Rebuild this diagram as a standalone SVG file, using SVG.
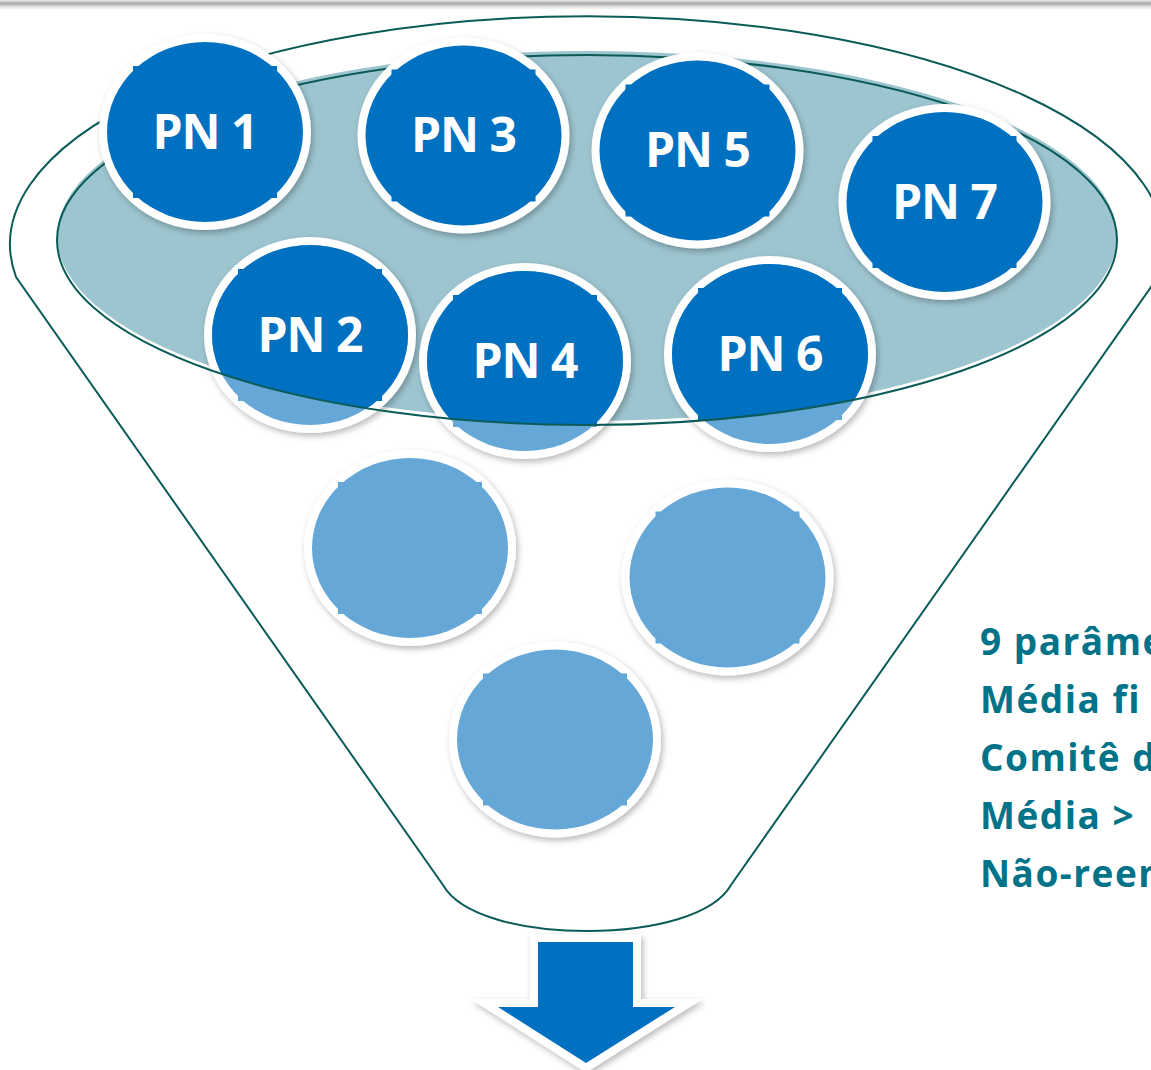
<svg xmlns="http://www.w3.org/2000/svg" width="1151" height="1070" viewBox="0 0 1151 1070">
<style>
  .line { fill: none; stroke: #0B5C58; stroke-width: 2; }
  .ring { fill: #ffffff; filter: url(#shadow); }
  .lbl { font-family: "Open Sans", Lato, "Liberation Sans", sans-serif; font-weight: 700; font-size: 48px; letter-spacing: -1px; fill: #ffffff; text-anchor: middle; }
  .note { font-family: "Open Sans", Lato, "Liberation Sans", sans-serif; font-weight: 700; font-size: 37px; letter-spacing: 1.5px; fill: #007389; font-variant-ligatures: none; }
</style>
<defs>
  <filter id="shadow" x="-20%" y="-20%" width="140%" height="140%">
    <feDropShadow dx="2" dy="3" stdDeviation="3" flood-color="#000" flood-opacity="0.28"/>
  </filter>
  <linearGradient id="topbar" x1="0" y1="0" x2="0" y2="1">
    <stop offset="0" stop-color="#e8e8e8"/>
    <stop offset="0.35" stop-color="#a9a9a9"/>
    <stop offset="0.7" stop-color="#e4e4e4"/>
    <stop offset="1" stop-color="#ffffff"/>
  </linearGradient>
  <clipPath id="liquid" clipPathUnits="userSpaceOnUse">
    <rect x="0" y="0" width="1151" height="240"/>
    <ellipse cx="587" cy="240" rx="530" ry="185"/>
  </clipPath>
  <g id="dk">
    <ellipse cx="0" cy="0" rx="98" ry="90" fill="#0070C0"/>
    <rect x="-72" y="-66" width="6" height="6" fill="#0070C0"/>
    <rect x="66" y="-66" width="6" height="6" fill="#0070C0"/>
    <rect x="-72" y="60" width="6" height="6" fill="#0070C0"/>
    <rect x="66" y="60" width="6" height="6" fill="#0070C0"/>
  </g>
  <g id="lt">
    <ellipse cx="0" cy="0" rx="98" ry="90" fill="#65A7D6"/>
    <rect x="-72" y="-66" width="6" height="6" fill="#65A7D6"/>
    <rect x="66" y="-66" width="6" height="6" fill="#65A7D6"/>
    <rect x="-72" y="60" width="6" height="6" fill="#65A7D6"/>
    <rect x="66" y="60" width="6" height="6" fill="#65A7D6"/>
  </g>
</defs>

<rect x="0" y="0" width="1151" height="1070" fill="#ffffff"/>
<rect x="0" y="0" width="1151" height="10" fill="url(#topbar)"/>

<g id="funnel">
  <path class="line" d="M16,277 A577,228 0 1 1 1158,277 L731,885 C714,915 654,931 587,931 C520,931 460,915 443,885 Z"/>
  <ellipse cx="587" cy="236" rx="530" ry="185" fill="#9DC5D0"/>
  <path class="line" d="M57,240 A530,185 0 0 1 1117,240"/>
</g>

<g id="nodes">
  <g id="pn1">
    <ellipse class="ring" cx="205" cy="132" rx="106" ry="98"/>
    <use href="#dk" x="205" y="132"/>
    <text class="lbl" x="205" y="148.5">PN 1</text>
  </g>
  <g id="pn3">
    <ellipse class="ring" cx="463.5" cy="135.5" rx="106" ry="98"/>
    <use href="#dk" x="463.5" y="135.5"/>
    <text class="lbl" x="463.5" y="152">PN 3</text>
  </g>
  <g id="pn5">
    <ellipse class="ring" cx="697.5" cy="150.5" rx="106" ry="98"/>
    <use href="#dk" x="697.5" y="150.5"/>
    <text class="lbl" x="697.5" y="167">PN 5</text>
  </g>
  <g id="pn7">
    <ellipse class="ring" cx="944.5" cy="202" rx="106" ry="98"/>
    <use href="#dk" x="944.5" y="202"/>
    <text class="lbl" x="944.5" y="218.5">PN 7</text>
  </g>
  <g id="pn2">
    <ellipse class="ring" cx="310" cy="335" rx="106" ry="98"/>
    <use href="#lt" x="310" y="335"/>
    <g clip-path="url(#liquid)"><use href="#dk" x="310" y="335"/></g>
    <text class="lbl" x="310" y="351.5">PN 2</text>
  </g>
  <g id="pn4">
    <ellipse class="ring" cx="525" cy="361" rx="106" ry="98"/>
    <use href="#lt" x="525" y="361"/>
    <g clip-path="url(#liquid)"><use href="#dk" x="525" y="361"/></g>
    <text class="lbl" x="525" y="377.5">PN 4</text>
  </g>
  <g id="pn6">
    <ellipse class="ring" cx="770" cy="354" rx="106" ry="98"/>
    <use href="#lt" x="770" y="354"/>
    <g clip-path="url(#liquid)"><use href="#dk" x="770" y="354"/></g>
    <text class="lbl" x="770" y="370.5">PN 6</text>
  </g>
  <g id="drop1">
    <ellipse class="ring" cx="410" cy="548" rx="106" ry="98"/>
    <use href="#lt" x="410" y="548"/>
  </g>
  <g id="drop2">
    <ellipse class="ring" cx="727.5" cy="577.5" rx="106" ry="98"/>
    <use href="#lt" x="727.5" y="577.5"/>
  </g>
  <g id="drop3">
    <ellipse class="ring" cx="555" cy="739.5" rx="106" ry="98"/>
    <use href="#lt" x="555" y="739.5"/>
  </g>
</g>

<g id="funnel-front">
  <path class="line" d="M1117,240 A530,185 0 0 1 57,240"/>
</g>

<g id="connectors">
  <polygon points="538,942 633,942 633,1007 675,1007 586,1063 498,1007 538,1007" fill="#0070C0" stroke="#ffffff" stroke-width="16" stroke-linejoin="miter" stroke-miterlimit="10" paint-order="stroke" filter="url(#shadow)"/>
</g>

<g id="notes">
  <text class="note" x="980" y="655">9 parâme</text>
  <text class="note" x="980" y="713">Média fi</text>
  <text class="note" x="980" y="771">Comitê d</text>
  <text class="note" x="980" y="829">Média &gt;</text>
  <text class="note" x="980" y="887">Não-reem</text>
</g>
</svg>
